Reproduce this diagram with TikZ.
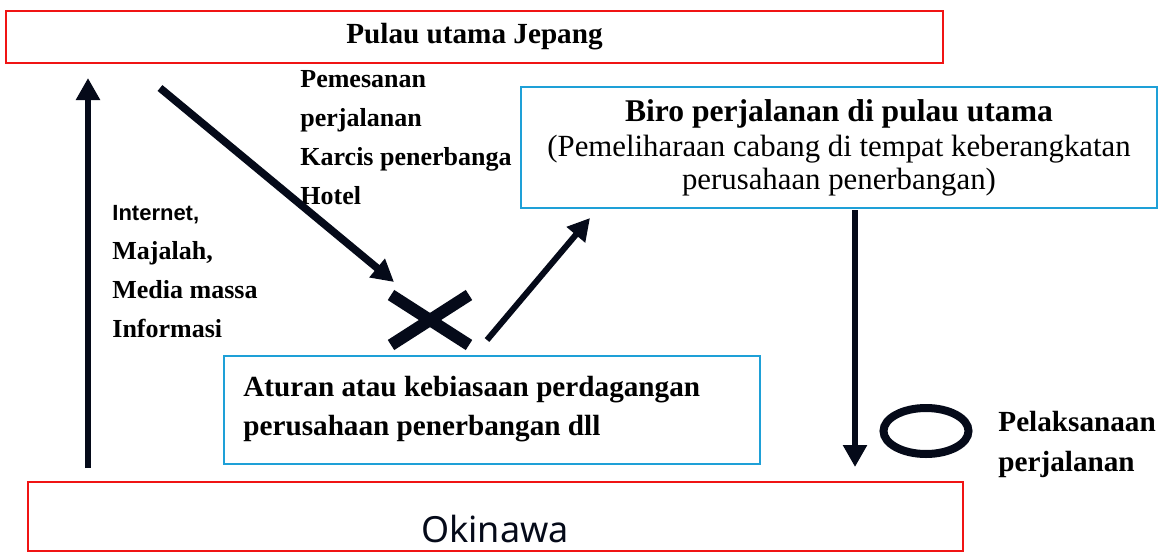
\documentclass[tikz,border=0pt]{standalone}
\usepackage{fontspec}
\setmainfont{Liberation Serif}
\newfontfamily\arialfont{Liberation Sans}
\newfontfamily\okifont{Noto Sans}
\usetikzlibrary{arrows.meta,shapes.geometric,shapes.misc}
\definecolor{boxred}{RGB}{240,20,20}
\definecolor{boxblue}{RGB}{30,160,215}
\definecolor{ink}{RGB}{5,10,25}
\begin{document}
\begin{tikzpicture}[x=0.5pt,y=-0.5pt,line join=miter,
  redbox/.style={draw=boxred,line width=1pt,inner sep=0pt,anchor=north west},
  bluebox/.style={draw=boxblue,line width=1pt,inner sep=0pt,anchor=north west},
  bigarrow/.style={draw=ink,line width=3.3pt,-{Triangle[length=11pt,width=11.5pt]}},
  lbl/.style={align=left,anchor=north west,inner sep=0pt,font=\bfseries\fontsize{13}{19.5}\selectfont}]
  \useasboundingbox (0,0) rectangle (1167,552);
  \node[redbox,minimum width=468.5pt,minimum height=26pt,
    font=\bfseries\fontsize{14.6}{17}\selectfont] (japan) at (5,10) {Pulau utama Jepang};
  \node[redbox,minimum width=467.5pt,minimum height=34.5pt] (okinawa) at (27,481) {};
  \node[font=\okifont\fontsize{18}{20}\selectfont,text=ink] (okitext) at (495,529) {Okinawa};
  \node[bluebox,minimum width=318pt,minimum height=60.5pt,align=center,
    font=\fontsize{15.4}{16.5}\selectfont] (biro) at (520,86)
    {{\bfseries\fontsize{15.8}{17}\selectfont Biro perjalanan di pulau utama}\\[1pt]
     (Pemeliharaan cabang di tempat keberangkatan\\perusahaan penerbangan)};
  \node[bluebox,minimum width=268pt,minimum height=54pt] (aturan) at (223,355) {};
  \node[lbl,font=\bfseries\fontsize{14.6}{19.5}\selectfont] (aturantext) at (243,376)
    {Aturan atau kebiasaan perdagangan\\perusahaan penerbangan dll};
  \node[lbl] (pesan) at (300,70) {Pemesanan\\perjalanan\\Karcis penerbanga\\Hotel};
  \node[lbl] (media) at (112,205)
    {{\arialfont\fontsize{11}{19.5}\selectfont Internet,}\\Majalah,\\Media massa\\Informasi};
  \node[lbl,font=\bfseries\fontsize{14.6}{20}\selectfont] (jalan) at (998,411)
    {Pelaksanaan\\perjalanan};
  \node[cross out,draw=ink,line width=6pt,minimum width=33pt,minimum height=19pt] (nogo) at (430,320) {};
  \node[ellipse,draw=ink,line width=4pt,minimum width=42.5pt,minimum height=23pt] (ok) at (926,431) {};
  \coordinate (infoout) at (88,468);
  \coordinate (infoin) at (88,78);
  \coordinate (bookout) at (160,88);
  \coordinate (bookin) at (394,282);
  \coordinate (agentout) at (487,340);
  \coordinate (agentin) at (590,218);
  \coordinate (tourout) at (855,210);
  \coordinate (tourin) at (855,467);
  \draw[bigarrow] (infoout) -- (infoin);
  \draw[bigarrow,line width=3.8pt] (bookout) -- (bookin);
  \draw[bigarrow,line width=3pt] (agentout) -- (agentin);
  \draw[bigarrow,line width=3pt] (tourout) -- (tourin);
\end{tikzpicture}
\end{document}
